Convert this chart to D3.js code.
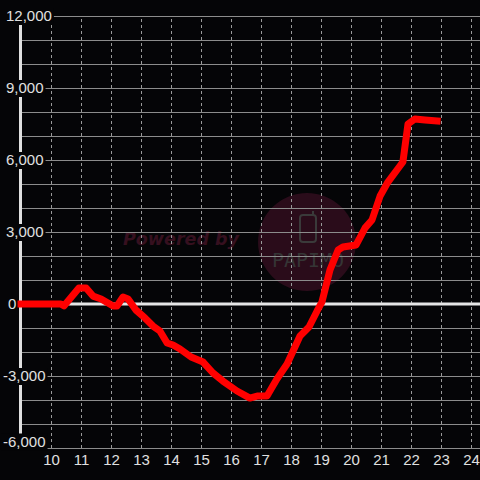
<html>
<head>
<meta charset="utf-8">
<script src="https://d3js.org/d3.v7.min.js"></script>
<style>
body { margin: 0; background-color: #050507; }
svg text { font-family: "Liberation Sans", Arial, sans-serif; }
</style>
</head>
<body>
<svg id="chart" width="480" height="480"></svg>
<script>

// hour of the day vs. value
var hours = [9.0, 10.33, 10.43, 10.93, 11.17, 11.4, 11.67, 12.07, 12.2, 12.4, 12.57, 12.83,
  13.13, 13.4, 13.63, 13.87, 14.07, 14.3, 14.67, 15.07, 15.4, 15.73, 16.2, 16.63, 16.9,
  17.2, 17.53, 17.87, 18.3, 18.6, 18.87, 19.03, 19.3, 19.57, 19.73, 20.17, 20.47, 20.7,
  20.97, 21.23, 21.63, 21.73, 21.9, 22.13, 22.47, 22.87];
var values = [0, 0, -80, 670, 670, 330, 210, -80, -80, 290, 210, -250,
  -580, -920, -1125, -1625, -1710, -1875, -2210, -2420, -2875, -3210, -3625, -3920, -3830,
  -3830, -3125, -2500, -1330, -960, -290, 80, 1420, 2250, 2375, 2460, 3170, 3500,
  4500, 5080, 5750, 5920, 7500, 7710, 7670, 7625];

var xTicks = [10, 11, 12, 13, 14, 15, 16, 17, 18, 19, 20, 21, 22, 23, 24];
var yGrid = d3.range(-6000, 12001, 1000);
var yTicks = [-6000, -3000, 0, 3000, 6000, 9000, 12000];

var svg = d3.select("#chart");

var x = d3.scaleLinear().domain([9, 24.3]).range([21, 480]);
var y = d3.scaleLinear().domain([-6000, 12000]).range([448, 16]);

var fmt = d3.format(",");

svg.append("rect").attr("width", 480).attr("height", 480).attr("fill", "#050507");

// watermark
var wm = svg.append("g");
wm.append("text")
  .attr("x", 123).attr("y", 245)
  .style("font-family", "DejaVu Sans").style("font-size", "17.5px")
  .style("font-weight", "bold").style("font-style", "oblique")
  .attr("fill", "#36101f")
  .text("Powered by");
wm.append("circle").attr("cx", 307).attr("cy", 242).attr("r", 49).attr("fill", "#2a0c1a");
wm.append("rect").attr("x", 300).attr("y", 215).attr("width", 16).attr("height", 27).attr("rx", 3)
  .attr("fill", "none").attr("stroke", "#3a3a3a").attr("stroke-width", 2);
wm.append("line").attr("x1", 313).attr("x2", 313).attr("y1", 211).attr("y2", 216)
  .attr("stroke", "#3a3a3a").attr("stroke-width", 2);
wm.append("text")
  .attr("x", 308).attr("y", 267).attr("text-anchor", "middle")
  .style("font-family", "DejaVu Sans Mono").style("font-size", "20px")
  .attr("fill", "#353535")
  .text("PAPIMO");

// vertical dashed grid
svg.append("g")
  .attr("transform", "translate(0,448)")
  .call(d3.axisBottom(x).tickValues(xTicks).tickSize(-432).tickFormat(""))
  .call(function(g) {
    g.select(".domain").remove();
    g.selectAll(".tick line").attr("stroke", "#9a9a9a").attr("stroke-dasharray", "3,3");
  });

// horizontal grid
svg.append("g")
  .attr("transform", "translate(21,0)")
  .call(d3.axisLeft(y).tickValues(yGrid).tickSize(-459).tickFormat(""))
  .call(function(g) {
    g.select(".domain").remove();
    g.selectAll(".tick line").attr("stroke", "#8c8c8c");
  });

// zero line
svg.append("line")
  .attr("x1", 21).attr("x2", 480).attr("y1", y(0)).attr("y2", y(0))
  .attr("stroke", "#e6e6e6").attr("stroke-width", 3);

// y axis line
svg.append("line")
  .attr("x1", 20.5).attr("x2", 20.5).attr("y1", y(12000)).attr("y2", y(-6000))
  .attr("stroke", "#e0e0e0").attr("stroke-width", 3);

// y labels with background
var yl = svg.append("g")
  .attr("transform", "translate(6,0)")
  .call(d3.axisRight(y).tickValues(yTicks).tickSize(0).tickPadding(0)
    .tickFormat(function(d) { return fmt(d).replace("\u2212", "-"); }))
  .call(function(g) { g.select(".domain").remove(); });
yl.selectAll(".tick")
  .attr("transform", function(d) { return "translate(0," + (d === -6000 ? y(d) - 6 : y(d) + 0.5) + ")"; });
yl.selectAll(".tick text")
  .attr("fill", "#e0e0e0").style("font-size", "15px")
  .attr("x", function(d) { return d === 0 ? 2 : (d < 0 ? -3 : 0); });
yl.selectAll(".tick").each(function() {
  var t = d3.select(this).select("text");
  var b = t.node().getBBox();
  d3.select(this).insert("rect", "text")
    .attr("x", b.x - 2).attr("y", -8.5).attr("width", b.width + 4).attr("height", 17)
    .attr("fill", "#050507");
});

// x labels
svg.append("g")
  .attr("transform", "translate(0,448)")
  .call(d3.axisBottom(x).tickValues(xTicks).tickSize(0).tickPadding(6))
  .call(function(g) {
    g.select(".domain").remove();
    g.selectAll(".tick text").attr("fill", "#e0e0e0").style("font-size", "15px");
  });

// data line
svg.append("path")
  .datum(hours.map(function(h, i) { return [h, values[i]]; }))
  .attr("fill", "none")
  .attr("stroke", "#ff0000")
  .attr("stroke-width", 7)
  .attr("stroke-linejoin", "round")
  .attr("stroke-linecap", "square")
  .attr("d", d3.line().x(function(d) { return x(d[0]); }).y(function(d) { return y(d[1]); }));

</script>
</body>
</html>
